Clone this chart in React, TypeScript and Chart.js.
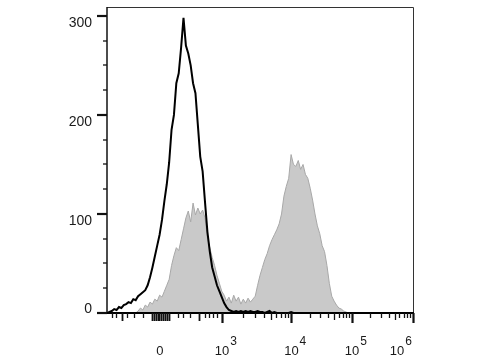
import { useEffect, useRef } from 'react';
import { Chart, registerables } from 'chart.js';

Chart.register(...registerables);

// Histogram bins on a 0–1024 display-channel scale (bin width 8 channels)
const binStep = 8;

// Black outline histogram (unstained / control)
const controlCounts = [
  0, 1, 2, 4, 3, 6, 5, 8, 9, 11, 10, 14, 13,
  17, 19, 21, 23, 28, 36, 46, 57, 68, 79, 94, 113, 130, 152, 185,
  200, 232, 242, 268, 298, 270, 262, 250, 232, 222, 190, 158, 143,
  112, 82, 62, 46, 37, 28, 22, 16, 10, 6, 3, 2, 1,
  2, 1, 2, 1, 2, 1, 2, 1, 1, 2, 1, 1, 0, 1,
  2, 0, 1, 0, 0, 0, 0, 0, 0, 1, 0, 0, 0, 0,
  0, 0, 0, 0, 0, 0, 0, 0, 0, 0, 0, 0, 0, 0, 0, 0, 0, 0, 0, 0,
  0, 0, 0, 0, 0, 0, 0, 0, 0, 0, 0, 0, 0, 0, 0, 0, 0, 0, 0, 0,
  0, 0, 0, 0, 0, 0, 0, 0, 0, 0, 0, 0,
];

// Grey filled histogram (stained sample)
const stainedCounts = [
  0, 0, 0, 0, 0, 0, 0, 0, 0, 0, 0, 0, 0,
  2, 5, 3, 8, 6, 11, 9, 14, 12, 18, 16, 22, 28, 34, 48,
  58, 66, 63, 74, 85, 96, 103, 92, 111, 99, 106, 100, 104,
  96, 76, 66, 56, 48, 38, 30, 22, 18, 12, 16, 10, 18,
  12, 16, 9, 14, 10, 15, 11, 14, 17, 28, 38, 46, 54, 60,
  68, 74, 79, 84, 90, 100, 118, 128, 136, 160, 150, 148, 154, 145,
  150, 140, 136, 126, 114, 100, 88, 80, 68, 62, 48, 30, 17, 12,
  8, 5, 4, 2, 1, 0, 0, 0, 0, 0, 0, 0, 0, 0, 0, 0, 0, 0, 0, 0,
  0, 0, 0, 0, 0, 0, 0, 0, 0, 0, 0, 0,
];

const channels = stainedCounts.map((_, i) => i * binStep);

// Axis definitions
const yMajorTicks = [0, 100, 200, 300];
const yMinorStep = 25;
const yMax = 309;
const xMax = 1024;
const xDecadeBase = ['0', '10', '10', '10', '10'];
const xDecadeExp = ['', '3', '4', '5', '6'];
const xDecadeChannels = [177, 385, 617, 820, 1024];
const xLinearMinor = [17, 30, 67, 90, 120, 238, 254, 278, 328, 341, 355, 368];
const xLinearMedium = [50, 151, 157, 163, 169, 175, 181, 187, 194, 201, 208, 308];
const logSubdivisions = [2, 3, 4, 5, 6, 7, 8, 9];

const axesPlugin = {
  id: 'flowAxes',
  afterDatasetsDraw(chart: any) {
    const { ctx, chartArea: a, scales } = chart;
    const x = scales.x;
    const y = scales.y;
    ctx.save();
    // frame top & right
    ctx.strokeStyle = '#333';
    ctx.lineWidth = 1;
    ctx.beginPath();
    ctx.moveTo(a.left, a.top + 0.5);
    ctx.lineTo(a.right + 0.5, a.top + 0.5);
    ctx.lineTo(a.right + 0.5, a.bottom);
    ctx.stroke();
    // left axis
    ctx.strokeStyle = '#111';
    ctx.lineWidth = 1.5;
    ctx.beginPath();
    ctx.moveTo(a.left, a.top);
    ctx.lineTo(a.left, a.bottom + 1);
    ctx.stroke();
    // bottom axis
    ctx.strokeStyle = '#000';
    ctx.lineWidth = 2;
    ctx.beginPath();
    ctx.moveTo(a.left - 1, a.bottom);
    ctx.lineTo(a.right + 1, a.bottom);
    ctx.stroke();

    // y ticks
    for (let v = 0; v <= 300; v += yMinorStep) {
      const py = Math.round(y.getPixelForValue(v));
      const major = yMajorTicks.includes(v);
      ctx.lineWidth = major ? 2.2 : 1.3;
      ctx.strokeStyle = '#111';
      ctx.beginPath();
      ctx.moveTo(a.left - (major ? 10 : 4), py);
      ctx.lineTo(a.left, py);
      ctx.stroke();
    }
    // y labels
    ctx.fillStyle = '#1a1a1a';
    ctx.font = '14px "Liberation Sans", Arial, sans-serif';
    ctx.textAlign = 'right';
    ctx.textBaseline = 'alphabetic';
    for (const v of yMajorTicks) {
      const py = y.getPixelForValue(v);
      ctx.fillText(String(v), a.left - 15, v === 0 ? py : py + 11);
    }

    // x ticks
    const tick = (ch: number, len: number, w: number) => {
      const px = Math.round(x.getPixelForValue(ch)) + 0.5;
      ctx.lineWidth = w;
      ctx.beginPath();
      ctx.moveTo(px, a.bottom);
      ctx.lineTo(px, a.bottom + len);
      ctx.stroke();
    };
    ctx.strokeStyle = '#111';
    for (const ch of xLinearMinor) tick(ch, 5, 1.3);
    for (const ch of xLinearMedium) tick(ch, 8, 1.8);
    for (let d = 1; d < xDecadeChannels.length; d++) {
      tick(xDecadeChannels[d], 10, 2.2);
      if (d < xDecadeChannels.length - 1) {
        const c0 = xDecadeChannels[d];
        const c1 = xDecadeChannels[d + 1];
        for (const k of logSubdivisions) {
          tick(c0 + Math.log10(k) * (c1 - c0), k === 5 ? 7 : 5, 1.3);
        }
      }
    }

    // x labels
    ctx.fillStyle = '#1a1a1a';
    ctx.textBaseline = 'alphabetic';
    for (let d = 0; d < xDecadeChannels.length; d++) {
      const px = x.getPixelForValue(xDecadeChannels[d]);
      ctx.font = '13px "Liberation Sans", Arial, sans-serif';
      const baseW = ctx.measureText(xDecadeBase[d]).width;
      ctx.font = '12px "Liberation Sans", Arial, sans-serif';
      const expW = xDecadeExp[d] ? ctx.measureText(xDecadeExp[d]).width + 1 : 0;
      let left = px - baseW / 2;
      if (left + baseW + expW > a.right) left = a.right - 1 - baseW - expW;
      ctx.textAlign = 'left';
      ctx.font = '13px "Liberation Sans", Arial, sans-serif';
      ctx.fillText(xDecadeBase[d], left, 355);
      if (xDecadeExp[d]) {
        ctx.font = '12px "Liberation Sans", Arial, sans-serif';
        ctx.fillText(xDecadeExp[d], left + baseW + 1, 345);
      }
    }
    ctx.restore();
  },
};

export default function App() {
  const ref = useRef<HTMLCanvasElement>(null);
  useEffect(() => {
    if (!ref.current) return;
    const chart = new Chart(ref.current, {
      type: 'line',
      data: {
        datasets: [
          {
            label: 'Control',
            data: channels.map((c, i) => ({ x: c, y: controlCounts[i] })),
            borderColor: '#000',
            borderWidth: 2,
            pointRadius: 0,
            fill: false,
            tension: 0,
            order: 0,
          },
          {
            label: 'Stained',
            data: channels.map((c, i) => ({ x: c, y: stainedCounts[i] })),
            borderColor: '#a8a8a8',
            backgroundColor: '#c9c9c9',
            borderWidth: 1,
            pointRadius: 0,
            fill: 'origin',
            tension: 0,
            order: 1,
          },
        ],
      },
      options: {
        responsive: false,
        animation: false,
        layout: { padding: { left: 107, top: 7, right: 67, bottom: 47 } },
        plugins: { legend: { display: false }, tooltip: { enabled: false } },
        scales: {
          x: { type: 'linear', min: 0, max: xMax, display: false },
          y: { type: 'linear', min: 0, max: yMax, display: false },
        },
      },
      plugins: [axesPlugin],
    });
    return () => chart.destroy();
  }, []);
  return (
    <div style={{ position: 'fixed', left: 0, top: 0, width: 480, height: 360, background: '#fff' }}>
      <canvas ref={ref} width={480} height={360} />
    </div>
  );
}
